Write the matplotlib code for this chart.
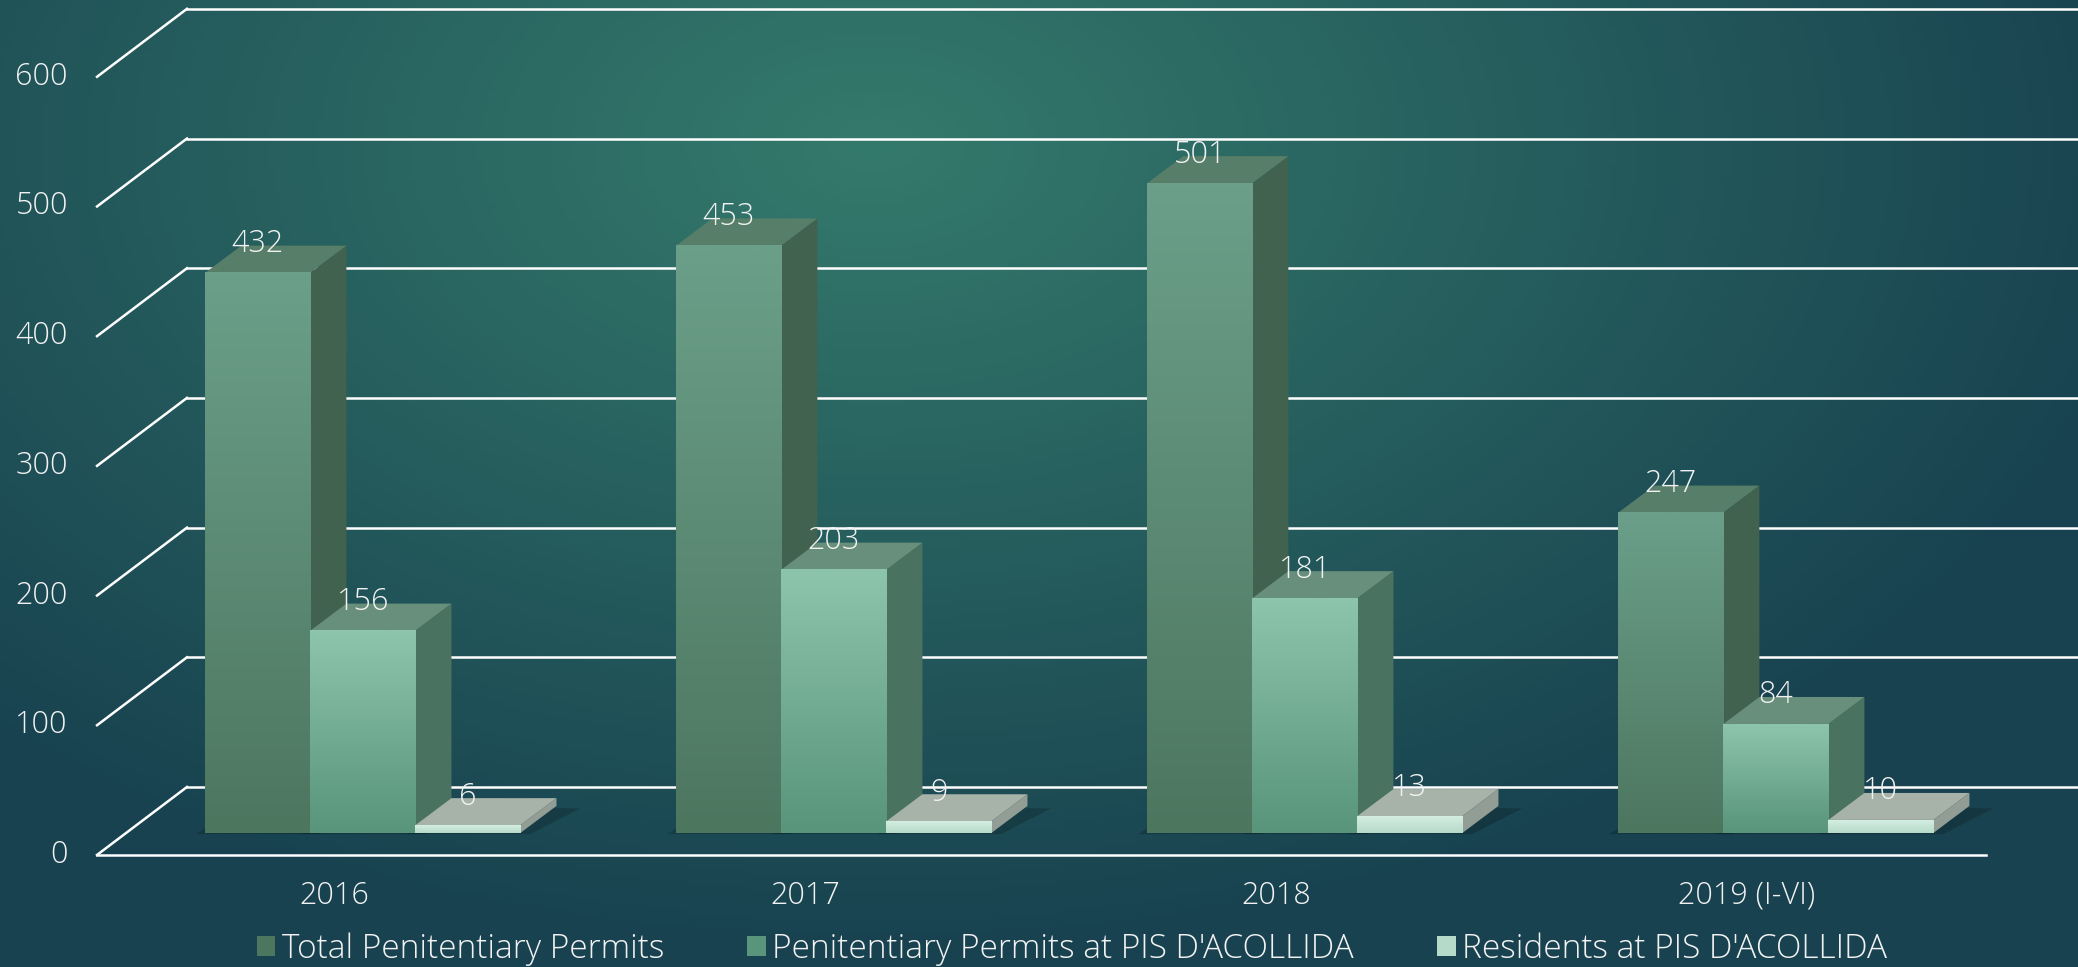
import numpy as np
import matplotlib
matplotlib.use("Agg")
import matplotlib.pyplot as plt
from matplotlib.patches import Polygon, Patch
from matplotlib.colors import to_rgb

categories = ["2016", "2017", "2018", "2019 (I-VI)"]
total_permits = [432, 453, 501, 247]
pis_permits = [156, 203, 181, 84]
pis_residents = [6, 9, 13, 10]
series_names = ["Total Penitentiary Permits",
                "Penitentiary Permits at PIS D'ACOLLIDA",
                "Residents at PIS D'ACOLLIDA"]
y_ticks = [0, 100, 200, 300, 400, 500, 600]

# face colours: front top, front bottom, top face, side face
styles = [
    ("#6b9f89", "#4d765f", "#567e69", "#41624e"),
    ("#8dc4ac", "#58957a", "#678f7b", "#4a7261"),
    ("#d4eee2", "#b6dac9", "#a7b2a8", "#929e95"),
]
txt = "#f2f2f2"
plt.rcParams["font.family"] = ["Open Sans", "DejaVu Sans"]
plt.rcParams["font.weight"] = "light"
fs = 22
fs_leg = 24

W, H = 2078, 967
fig = plt.figure(figsize=(W / 100, H / 100), dpi=100)

# background radial gradient
bg = fig.add_axes([0, 0, 1, 1], zorder=0)
yy, xx = np.mgrid[0:1:200j, 0:1:400j]
r = np.sqrt(((xx - 0.42) * 1.6) ** 2 + ((yy - 0.15) * 1.2) ** 2)
r = np.clip(r / 1.0, 0, 1)[..., None]
inner = np.array([52, 122, 108]) / 255
outer = np.array([24, 66, 80]) / 255
bg.imshow(inner * (1 - r) + outer * r, aspect="auto", extent=(0, 1, 0, 1), origin="upper")
bg.axis("off")

ax = fig.add_axes([0, 0, 1, 1], zorder=1)
ax.patch.set_alpha(0)
ax.axis("off")

# projection of the depth axis in data units
DX, DY = 0.191, 52.4          # floor depth
FX, FY = 0.0616, 17.0         # bar front offset from front edge
BX, BY = 0.0764, 20.8         # bar depth
bw = 0.223
x_left, x_right = -0.503, 3.507
xlim = (-0.709, 3.703)

# walls / gridlines
for v in y_ticks:
    ax.plot([x_left, x_left + DX], [v, v + DY], color="white", lw=1.8, zorder=2)
    ax.plot([x_left + DX, xlim[1] + 0.05], [v + DY, v + DY], color="white", lw=1.8, zorder=2)
    ax.text(-0.565, v, str(v), ha="right", va="center", color=txt, fontsize=fs)
ax.plot([x_left, x_right], [0, 0], color="white", lw=1.8, zorder=2)


def gradient(x0, x1, v, top, bot):
    n = 64
    t = np.linspace(0, 1, n)[:, None, None]
    img = np.array(to_rgb(top)) * (1 - t) + np.array(to_rgb(bot)) * t
    ax.imshow(img, extent=(x0, x1, FY, FY + v), origin="upper", aspect="auto", zorder=5,
              interpolation="bilinear")


series = [total_permits, pis_permits, pis_residents]
for i, cat in enumerate(categories):
    center = i + FX
    for k, vals in enumerate(series):
        v = vals[i]
        ftop, fbot, ctop, cside = styles[k]
        x0 = center + (k - 1.5) * bw
        x1 = x0 + bw
        y0, y1 = FY, FY + v
        # shadow
        ax.add_patch(Polygon([(x0 - 0.02, y0 - 1), (x1 + 0.02, y0 - 1), (x1 + BX + 0.05, y0 + BY - 2),
                              (x0 + BX, y0 + BY)], closed=True, color="black", alpha=0.18, lw=0, zorder=4))
        ax.add_patch(Polygon([(x1, y0), (x1 + BX, y0 + BY), (x1 + BX, y1 + BY), (x1, y1)],
                             closed=True, facecolor=cside, lw=0, zorder=5))
        ax.add_patch(Polygon([(x0, y1), (x1, y1), (x1 + BX, y1 + BY), (x0 + BX, y1 + BY)],
                             closed=True, facecolor=ctop, lw=0, zorder=5))
        gradient(x0, x1, v, ftop, fbot)
        ax.text((x0 + x1) / 2, y1 + 22, str(v), ha="center", va="center", color=txt,
                fontsize=fs, zorder=8)
    ax.text(i, -31.6, cat, ha="center", va="center", color=txt, fontsize=fs)

ax.set_xlim(*xlim)
ax.set_ylim(-86.4, 659.2)

handles = [Patch(facecolor=s[1], edgecolor="none") for s in styles]
fig.legend(handles, series_names, loc="center", bbox_to_anchor=(1072 / W, 1 - 949 / H),
           ncol=3, frameon=False, fontsize=fs_leg, labelcolor=txt, handlelength=0.55,
           handleheight=0.55, handletextpad=0.2, columnspacing=2.5)

fig.savefig("out.png", dpi=100)
